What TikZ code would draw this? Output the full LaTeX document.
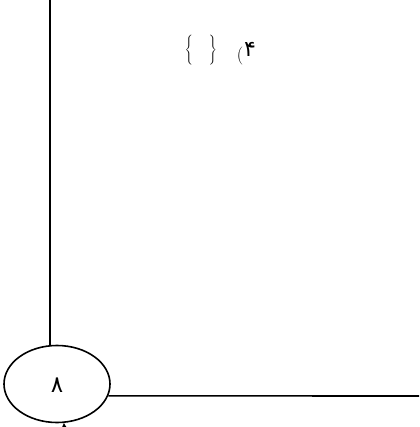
\documentclass[tikz,border=0pt]{standalone}
\usepackage{fontspec}
\usetikzlibrary{shapes.geometric,arrows.meta}
\newfontfamily\dvfont{DejaVu Sans}
\begin{document}
\begin{tikzpicture}[x=1pt,y=1pt,
  wire/.style={line width=1.6pt},
  bubble/.style={draw,ellipse,line width=1.6pt,minimum width=106pt,minimum height=77pt,inner sep=0pt},
  lbl/.style={inner sep=0pt}]
\useasboundingbox (0,0) rectangle (419,-427);
\node[bubble] (e) at (57,-384) {};
\node[lbl,font=\dvfont\fontsize{23}{25}\selectfont] (n8) at (57,-385) {۸};
\coordinate (top) at (50,0);
\coordinate (right) at (419,-396);
\coordinate (below) at (66,-450);
\draw[wire] (top) -- (top |- e.north);
\draw[wire] (e.-13.4) -- (right);
\draw[wire,-{Stealth[length=8pt,width=8pt]}] (below) -- (e.-80);
\node[lbl,font=\fontsize{12}{14}\selectfont] (b1) at (189,-50) {$\Bigg\{$};
\node[lbl,font=\fontsize{12}{14}\selectfont] (b2) at (213,-50) {$\Bigg\}$};
\node[lbl,font=\fontsize{18}{20}\selectfont] (pa) at (240,-56) {(};
\node[lbl,font=\dvfont\fontsize{22}{24}\selectfont] (t4) at (250,-49) {۴};
\end{tikzpicture}
\end{document}
